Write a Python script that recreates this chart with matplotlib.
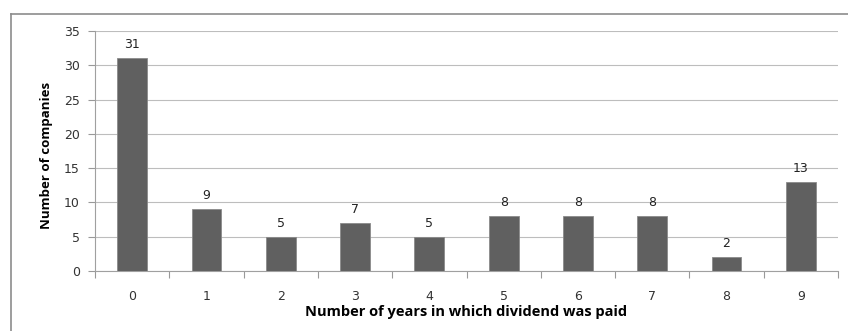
import matplotlib
matplotlib.use('Agg')
import numpy as np
import matplotlib.pyplot as plt
from matplotlib.lines import Line2D

plt.rcParams['font.family'] = ['DejaVu Sans']

# data
years = ['0', '1', '2', '3', '4', '5', '6', '7', '8', '9']
companies = [31, 9, 5, 7, 5, 8, 8, 8, 2, 13]

fig = plt.figure(figsize=(8.48, 3.31), dpi=100)
ax = fig.add_axes([95/848, 1 - 271/331, (838 - 95)/848, 240/331])

x = np.arange(len(years))
bars = ax.bar(x, companies, width=0.4, color='#606060', edgecolor='#8a8a8a', linewidth=0.6, zorder=3)

for bar, v in zip(bars, companies):
    ax.annotate(str(v), (bar.get_x() + bar.get_width()/2, v), xytext=(0, 5),
                textcoords='offset points', ha='center', va='bottom',
                fontsize=9, color='#222222')

ax.set_xlim(-0.5, len(years) - 0.5)
ax.set_ylim(0, 35)
ax.set_yticks(range(0, 36, 5))
ax.set_xticks(x)
ax.set_xticklabels(years)
ax.set_xticks(np.arange(-0.5, len(years)), minor=True)
ax.tick_params(axis='x', which='major', length=0, pad=14, labelsize=9, labelcolor='#333333')
ax.tick_params(axis='x', which='minor', length=5, color='#999999', width=0.8)
ax.tick_params(axis='y', length=5, color='#999999', width=0.8, labelsize=9, labelcolor='#333333', pad=6)

ax.grid(axis='y', color='#bdbdbd', linewidth=0.8, zorder=0)
for s in ['top', 'right']:
    ax.spines[s].set_visible(False)
ax.spines['left'].set_color('#a0a0a0')
ax.spines['bottom'].set_color('#a0a0a0')

ax.set_xlabel('Number of years in which dividend was paid', fontsize=10.5, fontweight='bold',
              family='Open Sans', labelpad=1)
ax.set_ylabel('Number of companies', fontsize=9.5, fontweight='bold',
              family='Open Sans', labelpad=8)
ax.yaxis.set_label_coords(-0.056, 0.48)

# outer chart border (top and left only visible)
top_y = 1 - 13.5/331
left_x = 10.5/848
fig.add_artist(Line2D([left_x, 1.0], [top_y, top_y], color='#8c8c8c', linewidth=1.2))
fig.add_artist(Line2D([left_x, left_x], [0, top_y], color='#8c8c8c', linewidth=1.2))

fig.savefig('out.png', dpi=100)
